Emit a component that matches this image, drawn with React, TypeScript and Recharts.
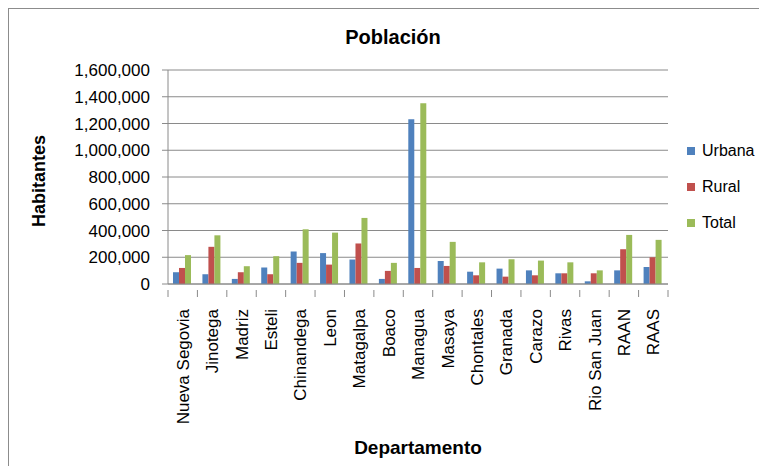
import React from "react";
import { BarChart, Bar, XAxis, YAxis, CartesianGrid, Legend } from "recharts";

const departamentos = [
  "Nueva Segovia", "Jinotega", "Madriz", "Esteli", "Chinandega", "Leon", "Matagalpa", "Boaco",
  "Managua", "Masaya", "Chontales", "Granada", "Carazo", "Rivas", "Rio San Juan", "RAAN", "RAAS",
];
const urbana = [88000, 73000, 38000, 123000, 243000, 231000, 183000, 38000, 1231000, 172000, 92000, 115000, 102000, 80000, 20000, 102000, 127000];
const rural = [120000, 278000, 88000, 73000, 158000, 145000, 303000, 98000, 120000, 135000, 65000, 55000, 65000, 80000, 80000, 260000, 200000];
const total = [216000, 364000, 133000, 208000, 409000, 384000, 494000, 158000, 1351000, 315000, 162000, 185000, 175000, 162000, 102000, 367000, 330000];
const yTicks = [0, 200000, 400000, 600000, 800000, 1000000, 1200000, 1400000, 1600000];
const seriesOrder = ["Urbana", "Rural", "Total"];

const data = departamentos.map((d, i) => ({ name: d, Urbana: urbana[i], Rural: rural[i], Total: total[i] }));

const FONT = "'Liberation Sans', Arial, sans-serif";
const GRID = "#8a8a8a";

function CategoryTick(props: any) {
  const { x, y, payload } = props;
  const half = payload.offset || 500 / 34;
  const last = payload.index === departamentos.length - 1;
  return (
    <g>
      <line x1={x - half} x2={x - half} y1={y - 2} y2={y + 5} stroke={GRID} />
      {last && <line x1={x + half} x2={x + half} y1={y - 2} y2={y + 5} stroke={GRID} />}
      <text
        x={x}
        y={y + 17}
        transform={`rotate(-90 ${x} ${y + 17})`}
        textAnchor="end"
        dy="0.36em"
        fontSize={17}
        fontFamily={FONT}
        fill="#000"
      >
        {payload.value}
      </text>
    </g>
  );
}

function LegendBox(props: any) {
  const items = [...(props.payload || [])].sort(
    (a: any, b: any) => seriesOrder.indexOf(a.value) - seriesOrder.indexOf(b.value)
  );
  return (
    <div style={{ fontFamily: FONT, fontSize: 16, whiteSpace: "nowrap", width: 90 }}>
      {items.map((p: any) => (
        <div key={p.value} style={{ display: "flex", alignItems: "center", height: 36 }}>
          <span style={{ width: 8, height: 8, flexShrink: 0, background: p.color, marginRight: 7, display: "inline-block" }} />
          <span style={{ color: "#000" }}>{p.value}</span>
        </div>
      ))}
    </div>
  );
}

export default function App() {
  return (
    <div style={{ position: "relative", width: 800, height: 500, border: "1px solid #8c8c8c", background: "#fff" }}>
      <div
        style={{
          position: "absolute", left: 284, top: 18, width: 200, textAlign: "center",
          fontFamily: FONT, fontWeight: "bold", fontSize: 20, lineHeight: "20px", color: "#000",
        }}
      >
        Población
      </div>
      <BarChart
        width={758}
        height={457}
        data={data}
        margin={{ top: 61, right: 99, bottom: 6, left: 0 }}
        barCategoryGap="17%"
        barGap={0}
      >
        <CartesianGrid vertical={false} stroke={GRID} />
        <XAxis
          dataKey="name"
          interval={0}
          height={176}
          tickLine={false}
          axisLine={{ stroke: GRID }}
          tick={<CategoryTick />}
          label={{ value: "Departamento", position: "insideBottom", offset: 6, fontSize: 19, fontWeight: "bold", fontFamily: FONT, fill: "#000" }}
        />
        <YAxis
          width={159}
          domain={[0, 1600000]}
          ticks={yTicks}
          interval={0}
          tickSize={6}
          tickMargin={12}
          tickLine={{ stroke: GRID }}
          axisLine={{ stroke: GRID }}
          tick={{ fontSize: 17, fontFamily: FONT, fill: "#000" }}
          tickFormatter={(v: number) => v.toLocaleString("en-US")}
          label={{ value: "Habitantes", angle: -90, position: "center", dx: -50, dy: 4, fontSize: 18, fontWeight: "bold", fontFamily: FONT, fill: "#000" }}
        />
        <Legend
          layout="vertical"
          align="right"
          verticalAlign="middle"
          content={<LegendBox />}
          wrapperStyle={{ position: "absolute", left: 678, top: 124, width: 0, height: 0, overflow: "visible" }}
        />
        <Bar dataKey="Urbana" fill="#4F81BD" isAnimationActive={false} />
        <Bar dataKey="Rural" fill="#C0504D" isAnimationActive={false} />
        <Bar dataKey="Total" fill="#9BBB59" isAnimationActive={false} />
      </BarChart>
    </div>
  );
}
